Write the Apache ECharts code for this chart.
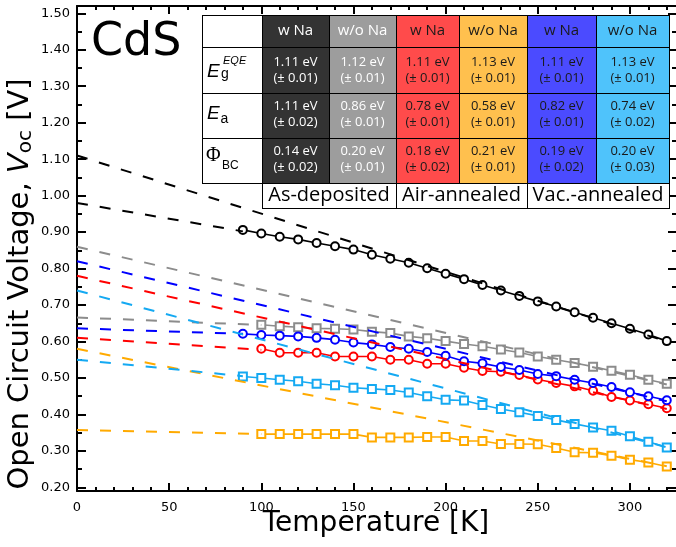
<!DOCTYPE html>
<html>
<head>
<meta charset="utf-8">
<script src="https://cdn.jsdelivr.net/npm/echarts@6/dist/echarts.min.js"></script>
<style>
  html, body { margin: 0; padding: 0; background: #fff; }
  #chart { width: 676px; height: 547px; }
</style>
</head>
<body>
<div id="chart"></div>
<script>
// ---------- data ----------
// Measurement temperatures (K)
const tempsFrom90  = [90, 100, 110, 120, 130, 140, 150, 160, 170, 180, 190, 200, 210, 220, 230, 240, 250, 260, 270, 280, 290, 300, 310, 320];
const tempsFrom100 = [100, 110, 120, 130, 140, 150, 160, 170, 180, 190, 200, 210, 220, 230, 240, 250, 260, 270, 280, 290, 300, 310, 320];

// Open circuit voltage Voc (V)
const vocAsDepNa   = [0.906, 0.896, 0.887, 0.880, 0.870, 0.861, 0.852, 0.838, 0.827, 0.816, 0.801, 0.786, 0.771, 0.755, 0.740, 0.725, 0.710, 0.696, 0.680, 0.665, 0.650, 0.635, 0.619, 0.601];
const vocAsDepNoNa = [0.646, 0.642, 0.639, 0.636, 0.635, 0.633, 0.627, 0.623, 0.614, 0.609, 0.601, 0.593, 0.587, 0.578, 0.570, 0.559, 0.550, 0.541, 0.531, 0.520, 0.509, 0.495, 0.484];
const vocAirNa     = [0.580, 0.569, 0.569, 0.569, 0.559, 0.559, 0.559, 0.550, 0.550, 0.539, 0.539, 0.528, 0.519, 0.517, 0.508, 0.496, 0.486, 0.477, 0.465, 0.448, 0.438, 0.428, 0.417];
const vocAirNoNa   = [0.346, 0.346, 0.346, 0.346, 0.346, 0.346, 0.337, 0.337, 0.337, 0.338, 0.338, 0.327, 0.327, 0.319, 0.319, 0.318, 0.308, 0.296, 0.295, 0.287, 0.276, 0.268, 0.257];
const vocVacNa     = [0.621, 0.618, 0.616, 0.614, 0.610, 0.605, 0.597, 0.592, 0.585, 0.580, 0.571, 0.561, 0.546, 0.540, 0.530, 0.522, 0.511, 0.505, 0.495, 0.486, 0.475, 0.461, 0.450, 0.439];
const vocVacNoNa   = [0.504, 0.500, 0.495, 0.491, 0.484, 0.480, 0.473, 0.470, 0.467, 0.460, 0.450, 0.440, 0.438, 0.426, 0.415, 0.406, 0.396, 0.385, 0.374, 0.364, 0.355, 0.340, 0.325, 0.309];

// Table values (eV), column order: as-dep w/ w/o, air w/ w/o, vac w/ w/o
const tableHeaders = ['w Na', 'w/o Na', 'w Na', 'w/o Na', 'w Na', 'w/o Na'];
const tableGroups  = ['As-deposited', 'Air-annealed', 'Vac.-annealed'];
const egEQE    = ['1.11', '1.12', '1.11', '1.13', '1.11', '1.13'];
const egEQEErr = ['0.01', '0.01', '0.01', '0.01', '0.01', '0.01'];
const eaVals   = ['1.11', '0.86', '0.78', '0.58', '0.82', '0.74'];
const eaErr    = ['0.02', '0.01', '0.01', '0.01', '0.01', '0.02'];
const phiBC    = ['0.14', '0.20', '0.18', '0.21', '0.19', '0.20'];
const phiBCErr = ['0.02', '0.01', '0.02', '0.01', '0.02', '0.03'];

// Linear fits: high-T fit runs from 0 K (intercept = Ea) to 320 K
const fitHighEndT  = 320;
const fitHighEndV  = [0.600, 0.482, 0.415, 0.258, 0.436, 0.310];
// Low-T fit: intercept at 0 K and end point
const fitLowStartV = [0.980, 0.666, 0.610, 0.357, 0.636, 0.550];
const fitLowEndT   = [90, 100, 100, 100, 90, 90];
const fitLowEndV   = [0.902, 0.645, 0.577, 0.346, 0.621, 0.505];

// Axis ticks
const xMajorTicks = [0, 50, 100, 150, 200, 250, 300];
const xMinorTicks = [10, 20, 30, 40, 60, 70, 80, 90, 110, 120, 130, 140, 160, 170, 180, 190, 210, 220, 230, 240, 260, 270, 280, 290, 310, 320];
const yMajorTicks = [0.2, 0.3, 0.4, 0.5, 0.6, 0.7, 0.8, 0.9, 1.0, 1.1, 1.2, 1.3, 1.4, 1.5];
const yMinorTicks = [0.25, 0.35, 0.45, 0.55, 0.65, 0.75, 0.85, 0.95, 1.05, 1.15, 1.25, 1.35, 1.45];

// ---------- styling ----------
const samples = [
  { temps: tempsFrom90,  voc: vocAsDepNa,   color: '#000000', symbol: 'circle' },
  { temps: tempsFrom100, voc: vocAsDepNoNa, color: '#8c8c8c', symbol: 'rect' },
  { temps: tempsFrom100, voc: vocAirNa,     color: '#ff0000', symbol: 'circle' },
  { temps: tempsFrom100, voc: vocAirNoNa,   color: '#ffaa00', symbol: 'rect' },
  { temps: tempsFrom90,  voc: vocVacNa,     color: '#0000ff', symbol: 'circle' },
  { temps: tempsFrom90,  voc: vocVacNoNa,   color: '#14a9f2', symbol: 'rect' }
];
const cellFill = ['#333333', '#9d9d9d', '#ff4b4b', '#ffc04e', '#4b4bff', '#4fc3fb'];
const cellInk  = ['#ffffff', '#ffffff', '#1a1a1a', '#1a1a1a', '#1a1a1a', '#1a1a1a'];

const X_MIN = 0, X_MAX = 325, Y_MIN = 0.19, Y_MAX = 1.52;
const black = '#000';

function xAxisDef(position, ticks, len, line, labels) {
  return {
    type: 'value', position: position, min: X_MIN, max: X_MAX,
    axisLine: { show: line, onZero: false, lineStyle: { color: black, width: 2 } },
    axisTick: { show: true, inside: true, length: len, customValues: ticks, lineStyle: { color: black, width: 2 } },
    axisLabel: labels ? {
      show: true, customValues: ticks, margin: 10, color: black,
      fontFamily: 'DejaVu Sans', fontSize: 13,
      formatter: v => String(Math.round(v))
    } : { show: false },
    splitLine: { show: false }
  };
}
function yAxisDef(position, ticks, len, line, labels) {
  return {
    type: 'value', position: position, min: Y_MIN, max: Y_MAX,
    axisLine: { show: line, onZero: false, lineStyle: { color: black, width: 2 } },
    axisTick: { show: true, inside: true, length: len, customValues: ticks, lineStyle: { color: black, width: 2 } },
    axisLabel: labels ? {
      show: true, customValues: ticks, margin: 7, color: black,
      fontFamily: 'DejaVu Sans', fontSize: 13,
      formatter: v => v.toFixed(2)
    } : { show: false },
    splitLine: { show: false }
  };
}

const series = [];
samples.forEach(s => {
  series.push({
    type: 'line', xAxisIndex: 0, yAxisIndex: 0,
    data: s.temps.map((t, k) => [t, s.voc[k]]),
    symbol: s.symbol, symbolSize: 8, showSymbol: true,
    itemStyle: { color: '#ffffff', borderColor: s.color, borderWidth: 2 },
    lineStyle: { color: s.color, width: 1.6 },
    z: 2, silent: true
  });
});
samples.forEach((s, i) => {
  const dashed = { color: s.color, width: 2, type: [11, 12] };
  series.push({
    type: 'line', xAxisIndex: 0, yAxisIndex: 0,
    data: [[0, parseFloat(eaVals[i])], [fitHighEndT, fitHighEndV[i]]],
    symbol: 'none', lineStyle: dashed, z: 3, silent: true
  });
  series.push({
    type: 'line', xAxisIndex: 0, yAxisIndex: 0,
    data: [[0, fitLowStartV[i]], [fitLowEndT[i], fitLowEndV[i]]],
    symbol: 'none', lineStyle: dashed, z: 3, silent: true
  });
});

// ---------- inset table, label, axis titles ----------
const colEdges = [262, 329, 396, 459, 527, 596, 669];
const labelLeft = 202;
const rowEdges = [15, 47, 93, 138, 183];
const groupBottom = 208;
const G = [];
const Z = 100;
function rect(x, y, w, h, fill) {
  G.push({ type: 'rect', z: Z, silent: true, shape: { x: x, y: y, width: w, height: h }, style: { fill: fill } });
}
function hline(x1, x2, y) {
  G.push({ type: 'line', z: Z + 1, silent: true, shape: { x1: x1, y1: y + 0.5, x2: x2, y2: y + 0.5 }, style: { stroke: black, lineWidth: 1 } });
}
function vline(x, y1, y2) {
  G.push({ type: 'line', z: Z + 1, silent: true, shape: { x1: x + 0.5, y1: y1, x2: x + 0.5, y2: y2 }, style: { stroke: black, lineWidth: 1 } });
}
function text(x, y, str, font, fill, align, extra) {
  G.push(Object.assign({
    type: 'text', z: Z + 2, silent: true, x: x, y: y,
    style: { text: str, font: font, fill: fill, align: align || 'center', verticalAlign: 'middle' }
  }, extra || {}));
}

rect(labelLeft, rowEdges[0], colEdges[0] - labelLeft, rowEdges[4] - rowEdges[0], '#ffffff');
rect(colEdges[0], rowEdges[4], colEdges[6] - colEdges[0], groupBottom - rowEdges[4], '#ffffff');
for (let i = 0; i < 6; i++) {
  rect(colEdges[i], rowEdges[0], colEdges[i + 1] - colEdges[i], rowEdges[4] - rowEdges[0], cellFill[i]);
}
rowEdges.forEach(y => hline(labelLeft, colEdges[6] + 1, y));
hline(colEdges[0], colEdges[6] + 1, groupBottom);
vline(labelLeft, rowEdges[0], rowEdges[4]);
[colEdges[1], colEdges[3], colEdges[5]].forEach(x => vline(x, rowEdges[0], rowEdges[4]));
[colEdges[0], colEdges[2], colEdges[4], colEdges[6]].forEach(x => vline(x, rowEdges[0], groupBottom + 1));

const valueRows = [[egEQE, egEQEErr, 70.5], [eaVals, eaErr, 114.5], [phiBC, phiBCErr, 159.2]];
for (let i = 0; i < 6; i++) {
  const cx = (colEdges[i] + colEdges[i + 1]) / 2;
  text(cx, 31, tableHeaders[i], '15px "Open Sans"', cellInk[i]);
  valueRows.forEach(r => {
    G.push({
      type: 'text', z: Z + 2, silent: true, x: cx, y: r[2],
      style: {
        text: r[0][i] + ' eV\n(\u00b1 ' + r[1][i] + ')', font: '13px "Open Sans"', lineHeight: 15.5,
        fill: cellInk[i], align: 'center', verticalAlign: 'middle'
      }
    });
  });
}
tableGroups.forEach((g, k) => {
  text((colEdges[2 * k] + colEdges[2 * k + 2]) / 2, 195.5, g, '20px "Open Sans"', black);
});

// Row labels
text(207, 71.7, 'E', 'italic 19px "Liberation Sans"', black, 'left');
text(221, 74.5, 'g', '14px "Liberation Sans"', black, 'left');
text(223, 60.5, 'EQE', 'italic 11px "Liberation Sans"', black, 'left');
text(207, 114.2, 'E', 'italic 19px "Liberation Sans"', black, 'left');
text(220.5, 119.5, 'a', '14px "Liberation Sans"', black, 'left');
text(206, 155.8, '\u03a6', '20px "Liberation Serif"', black, 'left');
text(222, 165.8, 'BC', '12px "Liberation Sans"', black, 'left');

// Sample label
text(91, 43.3, 'CdS', '46px "DejaVu Sans"', black, 'left');

// Axis titles
text(376, 524, 'Temperature [K]', '28px "DejaVu Sans"', black, 'center');
G.push({
  type: 'text', z: Z + 2, silent: true, x: 20, y: 284, rotation: Math.PI / 2,
  style: {
    text: '{a|Open Circuit Voltage, }{v|V}{s|oc}{a| [V]}',
    fill: black, align: 'center', verticalAlign: 'middle',
    rich: {
      a: { font: '29px "DejaVu Sans"', fill: black },
      v: { font: 'italic 29px "DejaVu Sans"', fill: black },
      s: { font: '20px "DejaVu Sans"', fill: black, padding: [12, 0, 0, 0] }
    }
  }
});

const option = {
  animation: false,
  backgroundColor: '#ffffff',
  grid: { left: 77, right: 0, top: 6, bottom: 56, containLabel: false },
  xAxis: [
    xAxisDef('bottom', xMajorTicks, 8, true, true),
    xAxisDef('bottom', xMinorTicks, 4, false, false),
    xAxisDef('top', xMajorTicks, 8, true, false),
    xAxisDef('top', xMinorTicks, 4, false, false)
  ],
  yAxis: [
    yAxisDef('left', yMajorTicks, 9, true, true),
    yAxisDef('left', yMinorTicks, 5, false, false),
    yAxisDef('right', yMajorTicks, 8, false, false),
    yAxisDef('right', yMinorTicks, 4, false, false)
  ],
  series: series,
  graphic: { elements: G }
};

const chart = echarts.init(document.getElementById('chart'), null, { renderer: 'canvas' });
chart.setOption(option);
</script>
</body>
</html>
